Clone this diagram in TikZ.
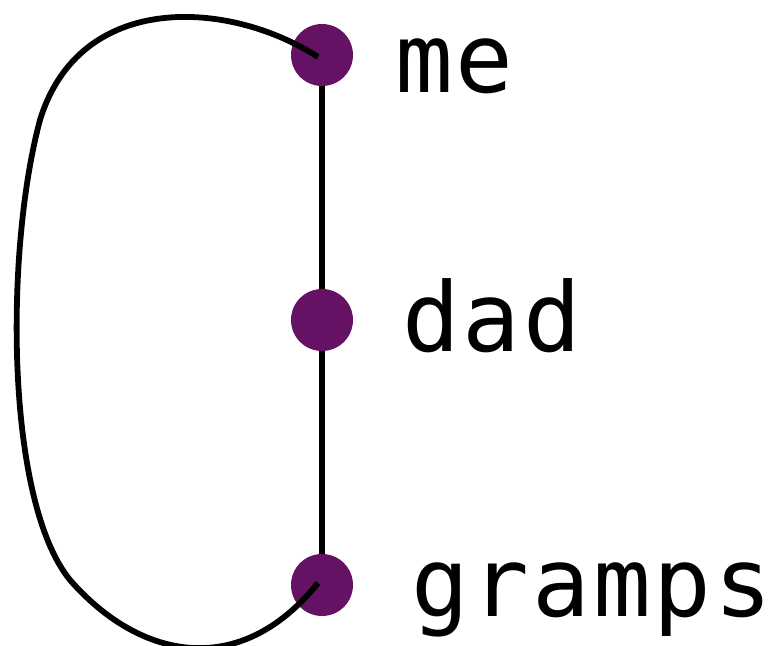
\documentclass[tikz,border=0pt]{standalone}
\usepackage{fontspec}
\setmonofont[LetterSpace=3]{DejaVu Sans Mono}
\usetikzlibrary{positioning}
\definecolor{plum}{RGB}{101,18,100}
\tikzset{
  person/.style={circle, fill=plum, minimum size=31pt, inner sep=0pt},
  who/.style={anchor=base west, font=\fontsize{48}{48}\selectfont\ttfamily, inner sep=0pt},
  tie/.style={line width=2.9pt, black},
  loopback/.style={line width=2.9pt, black, line cap=butt}
}
\begin{document}
\begin{tikzpicture}[x=0.5pt, y=-0.5pt]
  \useasboundingbox (0,0) rectangle (778,646);
  \node[person] (me) at (322,55) {};
  \node[person] (dad) at (322,320) {};
  \node[person] (gramps) at (322,585) {};

  \node[who] (meL) at (395,93) {me};
  \node[who] (dadL) at (402,352) {dad};
  \node[who] (grampsL) at (411,617) {gramps};

  % straight ties run behind the dots
  \draw[tie] (me) -- (dad);
  \draw[tie] (dad) -- (gramps);

  % the long way round, drawn over the dots
  \draw[loopback] ([shift={(-2pt,-1pt)}]me.center)
    .. controls (230,0) and (80,-10) .. (40,120)
    .. controls (5,250) and (5,500) .. (70,580)
    .. controls (140,660) and (240,680) .. ([shift={(-2pt,1pt)}]gramps.center);
\end{tikzpicture}
\end{document}
